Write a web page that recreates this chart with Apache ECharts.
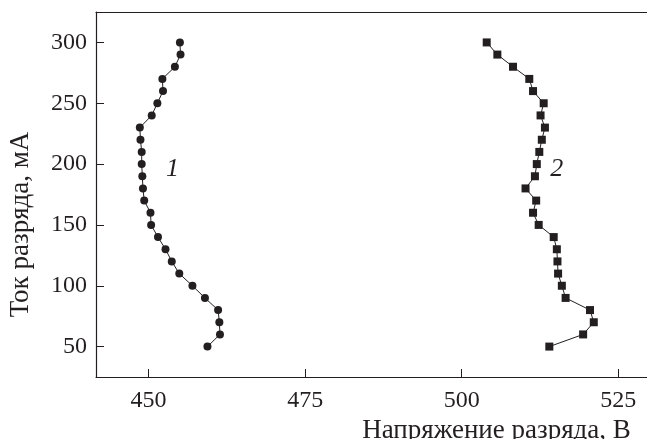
<!DOCTYPE html>
<html>
<head>
    <meta charset="utf-8">
    <title>Ток разряда</title>
    <script src="https://cdn.jsdelivr.net/npm/echarts@6/dist/echarts.min.js"></script>
    <style>
        html, body { margin: 0; padding: 0; background: #fff; overflow: hidden; }
        #chart1 { width: 647px; height: 439px; }
    </style>
</head>
<body>
<div id="chart1"></div>
<script type="text/javascript">
    // ток разряда, мА
    var current = [50, 60, 70, 80, 90, 100, 110, 120, 130, 140, 150, 160, 170,
        180, 190, 200, 210, 220, 230, 240, 250, 260, 270, 280, 290, 300];
    // кривая 1 - напряжение, В
    var voltage1 = [459.4, 461.4, 461.3, 461.1, 459.0, 457.0, 454.9, 453.7, 452.7, 451.5, 450.4, 450.3, 449.3,
        449.1, 449.0, 448.9, 448.9, 448.7, 448.6, 450.5, 451.4, 452.3, 452.2, 454.2, 455.1, 455.0];
    // кривая 2 - напряжение, В
    var voltage2 = [514.0, 519.4, 521.1, 520.5, 516.6, 516.0, 515.4, 515.3, 515.2, 514.7, 512.3, 511.4, 511.9,
        510.2, 511.7, 512.0, 512.4, 512.8, 513.3, 512.6, 513.1, 511.4, 510.8, 508.2, 505.7, 504.0];
    var xTicks = [450, 475, 500, 525];
    var yTicks = [50, 100, 150, 200, 250, 300];
    var curveNames = ['1', '2'];
    var curveLabelX = [453.8, 515.2];
    var curveLabelY = [196, 196];

    var ink = '#231f20';
    var font = 'Liberation Serif';

    function pairs(xs, ys) {
        return xs.map(function (x, i) { return [x, ys[i]]; });
    }

    var myChart1 = echarts.init(document.getElementById('chart1'));

    myChart1.setOption({
        animation: false,
        backgroundColor: '#fff',
        grid: {
            left: 96, top: 12, right: 0, bottom: 62,
            outerBoundsMode: 'none'
        },
        xAxis: [{
            type: 'value', min: 441.6, max: 529.6,
            name: 'Напряжение разряда, В',
            nameLocation: 'middle', nameGap: 30,
            nameTextStyle: {
                fontFamily: font, fontSize: 27, color: ink, padding: [0, 0, 0, 250]
            },
            axisLine: { lineStyle: { color: ink, width: 1.2 } },
            axisTick: { inside: true, length: 8, customValues: xTicks, lineStyle: { color: ink } },
            axisLabel: { customValues: xTicks, margin: 12, fontFamily: font, fontSize: 24, color: ink },
            splitLine: { show: false }
        }, {
            // верхняя рамка
            type: 'value', position: 'top', min: 441.6, max: 529.6,
            axisLine: { show: true, lineStyle: { color: ink, width: 1.2 } },
            axisTick: { show: false },
            axisLabel: { show: false },
            splitLine: { show: false }
        }],
        yAxis: {
            type: 'value', min: 25, max: 325,
            name: 'Ток разряда, мА',
            nameLocation: 'middle', nameGap: 62,
            nameTextStyle: {
                fontFamily: font, fontSize: 27, color: ink, padding: [0, 60, 0, 0]
            },
            axisLine: { lineStyle: { color: ink, width: 1.2 } },
            axisTick: { inside: true, length: 8, customValues: yTicks, lineStyle: { color: ink } },
            axisLabel: { customValues: yTicks, margin: 9, fontFamily: font, fontSize: 24, color: ink },
            splitLine: { show: false }
        },
        series: [
            {
                name: '1', type: 'line', data: pairs(voltage1, current),
                symbol: 'circle', symbolSize: 8,
                itemStyle: { color: ink },
                lineStyle: { color: ink, width: 1 }
            },
            {
                name: '2', type: 'line', data: pairs(voltage2, current),
                symbol: 'rect', symbolSize: 8,
                itemStyle: { color: ink },
                lineStyle: { color: ink, width: 1 }
            },
            {
                // подписи кривых
                type: 'scatter', symbolSize: 0,
                itemStyle: { color: ink, opacity: 1 },
                data: curveNames.map(function (n, i) {
                    return { value: [curveLabelX[i], curveLabelY[i]], name: n };
                }),
                label: {
                    show: true, position: 'inside', formatter: '{b}',
                    fontFamily: font, fontStyle: 'italic', fontSize: 26, color: ink
                },
                silent: true
            }
        ]
    });
</script>
</body>
</html>
